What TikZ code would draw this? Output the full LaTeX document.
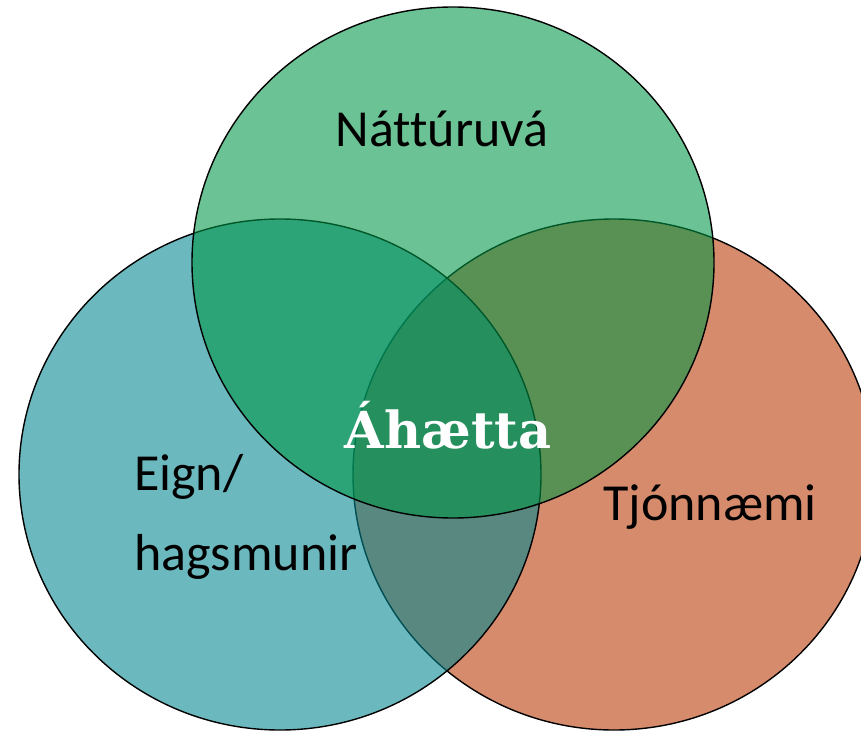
\documentclass[tikz,border=0pt]{standalone}
\usepackage{fontspec}
\setmainfont{Carlito}[Ligatures={NoCommon}]
\newfontfamily\riskfont{DejaVu Serif}
\definecolor{orangec}{RGB}{214,139,108}
\definecolor{bluec}{RGB}{0,134,143}
\definecolor{greenc}{RGB}{0,150,70}
\tikzset{
  setcircle/.style={draw=black, line width=1.4pt},
  label/.style={inner sep=0pt, font=\fontsize{52}{62}\selectfont, text=black},
  risklabel/.style={inner sep=0pt, font=\riskfont\bfseries\fontsize{51}{60}\selectfont, text=white}
}
\begin{document}
\begin{tikzpicture}[x=1pt,y=-1pt]
\useasboundingbox (0,0) rectangle (861,730);
\clip (0,0) rectangle (861,730);
% orange (bottom)
\draw[setcircle, fill=orangec] (614,474.5) ellipse [x radius=261, y radius=255.5];
% blue
\draw[setcircle, fill=bluec, fill opacity=0.58] (280,474.5) ellipse [x radius=261, y radius=255.5];
% green (top)
\draw[setcircle, fill=greenc, fill opacity=0.58] (453,262.5) ellipse [x radius=261, y radius=255.5];
% labels
\node[label, anchor=base] (natt) at (442,147) {Náttúruvá};
\node[label, anchor=base west] (eign) at (134,490) {Eign/};
\node[label, anchor=base west] (hags) at (134,570) {hagsmunir};
\node[label, anchor=base] (tjon) at (710,520) {Tjónnæmi};
\node[risklabel, anchor=base] (ahaetta) at (448,448) {Áhætta};
\end{tikzpicture}
\end{document}
